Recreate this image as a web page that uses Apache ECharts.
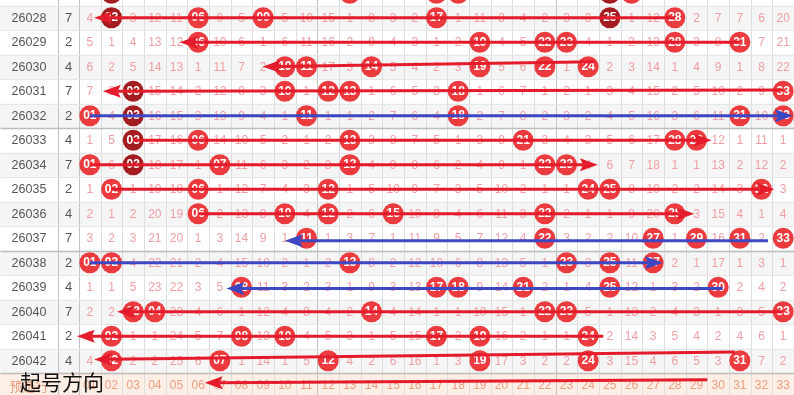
<!DOCTYPE html>
<html><head><meta charset="utf-8">
<script src="https://cdn.jsdelivr.net/npm/echarts@6/dist/echarts.min.js"></script>
<style>html,body{margin:0;padding:0;background:#fff}#c{width:794px;height:395px}</style>
</head><body><div id="c"></div>
<script>
// ---------- data ----------
const issues = ['26028','26029','26030','26031','26032','26033','26034','26035','26036','26037','26038','26039','26040','26041','26042'];
const sumDigits = [7,2,4,7,2,4,7,2,4,7,2,4,7,2,4];
// omission values per row for numbers 01..33 (0 = drawn number)
const missRows = [
 [4,0,3,12,11,0,9,5,0,5,10,15,1,8,3,2,0,1,11,3,4,2,3,3,0,1,12,0,2,7,7,6,20],
 [5,1,4,13,12,0,10,6,1,6,11,16,2,9,4,3,1,2,0,4,5,0,0,4,1,2,13,0,3,8,0,7,21],
 [6,2,5,14,13,1,11,7,2,0,0,17,3,0,5,4,2,3,0,5,6,0,1,0,2,3,14,1,4,9,1,8,22],
 [7,3,0,15,14,2,12,8,3,0,1,0,0,1,6,5,3,0,1,6,7,1,2,1,3,4,15,2,5,10,2,9,0],
 [0,4,0,16,15,3,13,9,4,1,0,1,1,2,7,6,4,0,2,7,8,2,3,2,4,5,16,3,6,11,0,10,0],
 [1,5,0,17,16,0,14,10,5,2,1,2,0,3,8,7,5,1,3,8,0,3,4,3,5,6,17,0,0,12,1,11,1],
 [0,6,0,18,17,1,0,11,6,3,2,3,0,4,9,8,6,2,4,9,1,0,0,4,6,7,18,1,1,13,2,12,2],
 [1,0,1,19,18,0,1,12,7,4,3,0,1,5,10,9,7,3,5,10,2,1,1,0,0,8,19,2,2,14,3,0,3],
 [2,1,2,20,19,0,2,13,8,0,4,0,2,6,0,10,8,4,6,11,3,0,2,1,1,9,20,0,3,15,4,1,4],
 [3,2,3,21,20,1,3,14,9,1,0,1,3,7,1,11,9,5,7,12,4,0,3,2,2,10,0,1,0,16,0,2,0],
 [0,0,4,22,21,2,4,15,10,2,1,2,0,8,2,12,10,6,8,13,5,1,0,3,0,11,0,2,1,17,1,3,1],
 [1,1,5,23,22,3,5,0,11,3,2,3,1,9,3,13,0,0,9,14,0,2,1,4,0,12,1,3,2,0,2,4,2],
 [2,2,0,0,23,4,6,1,12,4,3,4,2,0,4,14,1,1,10,15,1,0,0,5,1,13,2,4,3,1,3,5,0],
 [3,0,1,1,24,5,7,0,13,0,4,5,3,1,5,15,0,2,0,16,2,1,1,0,2,14,3,5,4,2,4,6,1],
 [4,0,2,2,25,6,0,1,14,1,5,0,4,2,6,16,1,3,0,17,3,2,2,0,3,15,4,6,5,3,0,7,2]
];
// row 26027 (only its lower edge is visible)
const prevRowBalls = [2,13,17,18,25,26];
// dark-red balls: [rowIndex, number]  (row -1 = 26027)
const darkBalls = [[-1,2],[-1,25],[0,2],[0,25],[3,3],[4,3],[5,3],[6,3]];
const footLabel = '预选行';
const footNums = ['01','02','03','04','05','06','07','08','09','10','11','12','13','14','15','16','17','18','19','20','21','22','23','24','25','26','27','28','29','30','31','32','33'];
// arrows: [fromNum, fromRow, tipNum, tipRow, colour]
const arrows = [
 [28,0,1.2,0,'r'],
 [31,1,5.15,1,'r'],
 [24.3,1.8,8.98,2,'r'],
 [33,2.95,1.6,3,'r'],
 [1,4,33.45,4,'b'],
 [3,5,29.7,5,'r'],
 [1,6,24.45,6,'r'],
 [2,7,32.6,7,'r'],
 [6,8,28.9,8,'r'],
 [32.3,9.1,10.0,9.1,'b'],
 [1,10,27.45,10,'b'],
 [30.2,11.05,7.3,11.05,'b'],
 [33,12,2.25,12,'r'],
 [24.7,13,0.4,13,'r'],
 [30.77,13.64,1.2,13.95,'r'],
 [29.5,14.78,6.3,14.9,'r']
];
const noteText = '起号方向';

// ---------- layout ----------
const W = 794, H = 395, LEFTW = 79;
const COLW = (W - LEFTW) / 33;
const XMIN = 0.5 - LEFTW / COLW, XMAX = 33.5;
const ROWH = 24.5, ROW0 = 17.75;
const YMIN = -ROW0 / ROWH, YMAX = (H - ROW0) / ROWH;
const ISSUE_X = 0.5 - (LEFTW - 29) / COLW;
const DIGIT_X = 0.5 - (LEFTW - 68.5) / COLW;
const SEP_X = 0.5 - (LEFTW - 58) / COLW;
const FOOT_ROW = issues.length;

const RED = '#e31b2a', BLUE = '#3d47c2';
const BALL = '#ec3b3f', BALL_DARK = '#a31d20';
const MISS_COLOR = '#ef9ea3', FOOT_COLOR = '#ee9f80';
const FONT = 'Arial, "Liberation Sans", sans-serif';

// backgrounds
const bgData = [];
for (let i = -1; i <= FOOT_ROW; i++) bgData.push([XMIN, i]);
function bgColor(i) { if (i === FOOT_ROW) return '#fdeee6'; return (i % 2 === 0) ? '#f5f5f5' : '#ffffff'; }

// grid lines [x1,y1,x2,y2,color,width]
const gridLines = [];
const vx = [SEP_X, 0.5];
for (let k = 1; k <= 33; k++) vx.push(k + 0.5);
vx.forEach(x => {
  const dark = (x === SEP_X || x === 0.5 || x === 11.5 || x === 22.5);
  gridLines.push([x, -1.5, x, FOOT_ROW + 0.6, dark ? '#c4c4c4' : '#dedede', 1]);
});
for (let i = -1; i <= FOOT_ROW; i++) {
  const sep = (i === 5 || i === 10 || i === FOOT_ROW);
  gridLines.push([XMIN, i - 0.5, XMAX, i - 0.5, sep ? '#bdbdbd' : '#e6e6e6', sep ? 1.6 : 1]);
}

// texts [x, y, text, color, font]
const texts = [];
issues.forEach((s, i) => {
  texts.push([ISSUE_X, i, s, '#555', '12.5px ' + FONT]);
  texts.push([DIGIT_X, i, String(sumDigits[i]), '#555', '13px ' + FONT]);
  missRows[i].forEach((v, k) => { if (v > 0) texts.push([k + 1, i, String(v), MISS_COLOR, '12px ' + FONT]); });
});
texts.push([ISSUE_X, FOOT_ROW, footLabel, FOOT_COLOR, '13px "Noto Sans CJK SC", sans-serif']);
footNums.forEach((s, k) => texts.push([k + 1, FOOT_ROW, s, FOOT_COLOR, '12px ' + FONT]));

// balls
const isDark = (r, n) => darkBalls.some(d => d[0] === r && d[1] === n);
const ballsNormal = [], ballsDark = [];
function addBall(r, n) { (isDark(r, n) ? ballsDark : ballsNormal).push([n, r, String(n).padStart(2, '0')]); }
prevRowBalls.forEach(n => addBall(-1, n));
missRows.forEach((row, i) => row.forEach((v, k) => { if (v === 0) addBall(i, k + 1); }));

const chart = echarts.init(document.getElementById('c'), null, {renderer: 'canvas'});
const ballLabel = {show: true, formatter: p => p.value[2], color: '#fff', fontSize: 12, fontWeight: 'bold', fontFamily: FONT};

chart.setOption({
  animation: false,
  title: {text: noteText, left: 15, top: 367, textStyle: {fontSize: 21, fontWeight: 'normal', color: '#111', fontFamily: '"Noto Sans CJK SC", sans-serif'}, z: 20},
  grid: {left: 0, right: 0, top: 0, bottom: 0},
  xAxis: {type: 'value', min: XMIN, max: XMAX, show: false},
  yAxis: {type: 'value', min: YMIN, max: YMAX, inverse: true, show: false},
  series: [
    {type: 'custom', z: 1, clip: false, silent: true, data: bgData,
     renderItem: (params, api) => {
       const i = bgData[params.dataIndex][1];
       const p1 = api.coord([XMIN, i - 0.5]), p2 = api.coord([XMAX, i + 0.5]);
       return {type: 'rect', shape: {x: p1[0], y: p1[1], width: p2[0] - p1[0], height: p2[1] - p1[1]}, style: {fill: bgColor(i)}};
     }},
    {type: 'custom', z: 2, clip: false, silent: true, data: gridLines.map(g => [g[0], g[1]]),
     renderItem: (params, api) => {
       const g = gridLines[params.dataIndex];
       const p1 = api.coord([g[0], g[1]]), p2 = api.coord([g[2], g[3]]);
       const r = v => Math.round(v) + 0.5;
       return {type: 'line', shape: {x1: r(p1[0]), y1: r(p1[1]), x2: r(p2[0]), y2: r(p2[1])}, style: {stroke: g[4], lineWidth: g[5]}};
     }},
    {type: 'custom', z: 3, clip: false, silent: true, data: texts.map(t => [t[0], t[1]]),
     renderItem: (params, api) => {
       const t = texts[params.dataIndex];
       const p = api.coord([t[0], t[1]]);
       return {type: 'text', x: p[0], y: p[1] + 0.5, style: {text: t[2], fill: t[3], font: t[4], align: 'center', verticalAlign: 'middle'}};
     }},
    {type: 'scatter', z: 4, clip: false, silent: true, symbol: 'circle', symbolSize: 21, data: ballsNormal,
     itemStyle: {color: BALL, opacity: 1}, label: ballLabel},
    {type: 'scatter', z: 4, clip: false, silent: true, symbol: 'circle', symbolSize: 21, data: ballsDark,
     itemStyle: {color: BALL_DARK, opacity: 1}, label: ballLabel},
    {type: 'custom', z: 5, clip: false, silent: true, data: arrows.map(a => [a[0], a[1]]),
     renderItem: (params, api) => {
       const a = arrows[params.dataIndex];
       const color = a[4] === 'b' ? BLUE : RED;
       const p1 = api.coord([a[0], a[1]]), p2 = api.coord([a[2], a[3]]);
       const dx = p2[0] - p1[0], dy = p2[1] - p1[1], len = Math.hypot(dx, dy);
       const ux = dx / len, uy = dy / len, nx = -uy, ny = ux;
       const L = 18, AW = 13;
       const bx = p2[0] - ux * L, by = p2[1] - uy * L;
       const mx = p2[0] - ux * L * 0.82, my = p2[1] - uy * L * 0.82;
       return {type: 'group', children: [
         {type: 'line', shape: {x1: p1[0], y1: p1[1], x2: mx, y2: my}, style: {stroke: color, lineWidth: 3}},
         {type: 'polygon', shape: {points: [[p2[0], p2[1]], [bx + nx * AW / 2, by + ny * AW / 2], [mx, my], [bx - nx * AW / 2, by - ny * AW / 2]]}, style: {fill: color}}
       ]};
     }}
  ]
});
</script></body></html>
